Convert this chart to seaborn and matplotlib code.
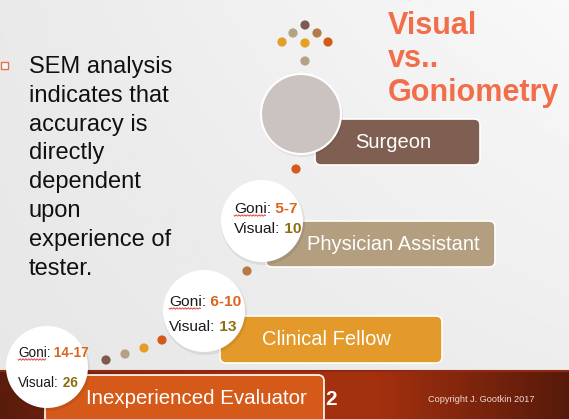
import numpy as np
import pandas as pd
import matplotlib
matplotlib.use('Agg')
import matplotlib.pyplot as plt
from matplotlib import font_manager as fm
from matplotlib.patches import FancyBboxPatch, Circle, Rectangle
from matplotlib.colors import LinearSegmentedColormap
import seaborn as sns

# --- data -------------------------------------------------------------
levels = ["Inexperienced Evaluator", "Clinical Fellow", "Physician Assistant", "Surgeon"]
goni_range = ["14-17", "6-10", "5-7"]
visual_err = [26, 13, 10]
title_lines = ["Visual", "vs..", "Goniometry"]
bullet_lines = ["SEM analysis", "indicates that", "accuracy is", "directly",
                "dependent", "upon", "experience of", "tester."]
copyright_txt = "Copyright J. Gootkin 2017"
slide_no = "2"

# --- layout / style (pixel units, y downwards) -------------------------
W, H = 569, 419
box_left = [45, 220, 266, 315]
box_right = [324, 442, 495, 480]
box_top = [375, 316, 221, 119]
box_bottom = [440, 363, 267, 165]
box_colors = ["#d55a19", "#e39a2a", "#b39e7f", "#7f5f51"]
label_xy = [(196, 398), (326, 339), (393, 244), (393, 142)]
label_size = [14.8, 14.5, 14.5, 14.5]

circle_xy = [(47, 367), (204, 311), (262, 221)]
# left x, y of "Goni" line, y of "Visual" line, target width of the "Visual" line
circle_text = [(18, 353, 383, 53), (169, 302, 327, 60), (234, 209, 229, 60)]
big_circle = (301, 114, 40)

dots = pd.DataFrame({
    "x": [305, 293, 317, 282, 305, 328, 305, 296, 247, 162, 144, 125, 106],
    "y": [25, 33, 33, 42, 43, 42, 61, 169, 271, 340, 348, 354, 360],
    "c": ["#7d5c4f", "#b5a183", "#b57a47", "#e59d2a", "#e8a020", "#d55a1a", "#b5a183",
          "#d55a1a", "#b57a47", "#d55a1a", "#e59d2a", "#b5a183", "#7d5c4f"],
})

sns.set_theme(style="white")
plt.rcParams['font.family'] = ['Liberation Sans', 'DejaVu Sans']

# narrow font for the circle labels, whatever is available
font_names = {f.name for f in fm.fontManager.ttflist}
narrow_kw = {'family': ['Liberation Sans', 'DejaVu Sans']}
widen = 1.13  # no narrow face: allow a bit more width so the text is not tiny
if 'Liberation Sans Narrow' in font_names:
    narrow_kw = {'family': ['Liberation Sans Narrow', 'DejaVu Sans']}
    widen = 1.0
elif 'DejaVu Sans Condensed' in font_names:
    narrow_kw = {'family': ['DejaVu Sans Condensed', 'DejaVu Sans']}
    widen = 1.0

fig = plt.figure(figsize=(W / 100, H / 100), dpi=100)
ax = fig.add_axes([0, 0, 1, 1])
ax.set_xlim(0, W)
ax.set_ylim(H, 0)
ax.axis('off')
renderer = fig.canvas.get_renderer()

# background: light grey, brighter towards the top right
gx, gy = np.meshgrid(np.linspace(0, 1, 200), np.linspace(0, 1, 150))
bg = 0.905 + 0.06 * gx * (1 - 0.6 * gy) + 0.01 * (1 - gy)
ax.imshow(bg, cmap='gray', vmin=0, vmax=1, extent=(0, W, 370, 0), aspect='auto', zorder=0)

# bottom band
band_cmap = LinearSegmentedColormap.from_list(
    "band", [(0, "#5a1c0c"), (0.2, "#822610"), (0.45, "#a5300f"),
             (0.67, "#a3300f"), (1, "#571a0a")])
ax.imshow(np.linspace(0, 1, 300)[None, :], cmap=band_cmap, extent=(0, W, H, 370),
          aspect='auto', zorder=0)
ax.plot([0, W], [371, 371], color="#8e2810", lw=1.5, zorder=1)

# bullet text
ax.add_patch(Rectangle((1.5, 62.5), 7, 7, facecolor="white", edgecolor="#e8704a", lw=1.0, zorder=3))
for i, line in enumerate(bullet_lines):
    ax.text(29, 73 + i * 28.8, line, fontsize=17, color="#111111", va='baseline', zorder=3)

# title
for i, line in enumerate(title_lines):
    ax.text(388, [34, 67, 101][i], line, fontsize=22, fontweight='bold',
            color="#f26d4a", va='baseline', zorder=3)

# level boxes
for i, lvl in enumerate(levels):
    ax.add_patch(FancyBboxPatch((box_left[i], box_top[i]), box_right[i] - box_left[i],
                                box_bottom[i] - box_top[i],
                                boxstyle="round,pad=0,rounding_size=6",
                                facecolor=box_colors[i], edgecolor="white", lw=1.2, zorder=4))
    ax.text(label_xy[i][0], label_xy[i][1], lvl, fontsize=label_size[i], color="white",
            ha='center', va='center', zorder=5)

# big grey circle above Surgeon
ax.add_patch(Circle((big_circle[0] + 1, big_circle[1] + 2), big_circle[2] + 1,
                    facecolor="#000000", alpha=0.06, lw=0, zorder=5))
ax.add_patch(Circle(big_circle[:2], big_circle[2], facecolor="#cbc3bf",
                    edgecolor="white", lw=1.5, zorder=6))

# decorative dots
sns.scatterplot(data=dots, x="x", y="y", hue="c", palette=dict(zip(dots.c, dots.c)),
                s=44, linewidth=0, legend=False, ax=ax, zorder=6)


def text_width(s, fs, **kw):
    t = ax.text(0, 0, s, fontsize=fs, **kw)
    w = t.get_window_extent(renderer).width
    t.remove()
    return w


# white circles with goniometry / visual values
for i in range(len(goni_range)):
    cx, cy = circle_xy[i]
    ax.add_patch(Circle((cx + 1, cy + 2), 42, facecolor="#000000", alpha=0.07, lw=0, zorder=6))
    ax.add_patch(Circle((cx, cy), 41, facecolor="white", lw=0, zorder=7))
    tx, ty1, ty2, target = circle_text[i]
    fs = 12 * widen * target / text_width("Visual: %d" % visual_err[i], 12, **narrow_kw)
    t1 = ax.text(tx, ty1, "Goni:", fontsize=fs, color="#1a1a1a", va='center', zorder=8, **narrow_kw)
    ax.annotate(" " + goni_range[i], xy=(1, 0), xycoords=t1, fontsize=fs, fontweight='bold',
                color="#d9661f", va='bottom', ha='left', zorder=8, **narrow_kw)
    t2 = ax.text(tx, ty2, "Visual:", fontsize=fs, color="#1a1a1a", va='center', zorder=8, **narrow_kw)
    ax.annotate(" " + str(visual_err[i]), xy=(1, 0), xycoords=t2, fontsize=fs, fontweight='bold',
                color="#8d6e12", va='bottom', ha='left', zorder=8, **narrow_kw)
    # spell-check squiggle under "Goni"
    bb = t1.get_window_extent(renderer).transformed(ax.transData.inverted())
    sx = np.linspace(bb.x0, bb.x0 + bb.width * 0.85, 40)
    sy = max(bb.y0, bb.y1) - 0.5 + 0.8 * np.sin((sx - bb.x0) * 2.2)
    ax.plot(sx, sy, color="#e03030", lw=0.6, zorder=9)

# footer
ax.text(331, 399, slide_no, fontsize=15, fontweight='bold', color="white",
        ha='center', va='center', zorder=5)
ax.text(428, 399, copyright_txt, fontsize=6.6, color="#eedcd4", va='center', zorder=5)

fig.savefig('out.png', dpi=100)
plt.close(fig)
